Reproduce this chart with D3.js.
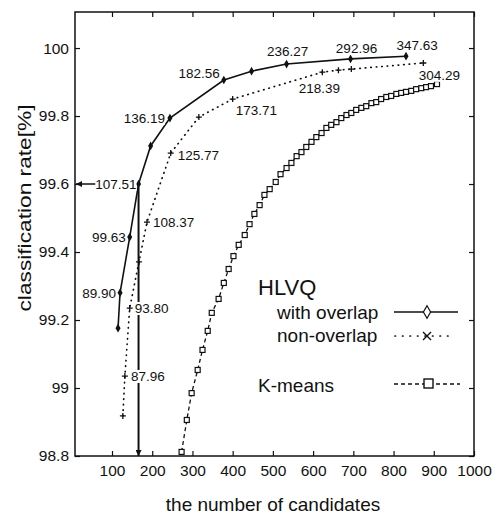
<!DOCTYPE html>
<html>
<head>
<meta charset="utf-8">
<script src="https://cdn.jsdelivr.net/npm/d3@7"></script>
<style>
	body { margin: 0; background: #fff; }
	text { font-family: "Liberation Sans", Arial, Helvetica, sans-serif; fill: #111; }
</style>
</head>
<body>
<div id="chart"></div>
<script>
// HLVQ with overlap
var overlapX = [115, 120, 144, 166, 196, 244, 378, 447, 534, 693, 831];
var overlapY = [99.176, 99.28, 99.444, 99.6, 99.712, 99.794, 99.906, 99.932, 99.953, 99.968, 99.976];
var overlapLabels = ["", "89.90", "99.63", "107.51", "", "136.19", "182.56", "", "236.27", "292.96", "347.63"];

// HLVQ non-overlap
var nonX = [127, 132, 144, 167, 187, 246, 316, 400, 623, 663, 695, 874];
var nonY = [98.918, 99.035, 99.235, 99.371, 99.488, 99.691, 99.797, 99.85, 99.929, 99.935, 99.938, 99.956];
var nonLabels = ["", "87.96", "93.80", "", "108.37", "125.77", "", "173.71", "218.39", "", "", "304.29"];

// K-means
var kmX = [273, 286, 298, 313, 325, 338, 348, 365, 378, 390, 402, 415, 430, 442, 454, 467, 479, 492,
	507, 519, 534, 546, 559, 571, 583, 596, 608, 621, 633, 645, 658, 670, 683, 695, 707, 720, 732,
	745, 757, 769, 782, 794, 807, 819, 831, 844, 856, 869, 881, 893, 908];
var kmY = [98.812, 98.906, 98.985, 99.053, 99.112, 99.168, 99.221, 99.262, 99.309, 99.35, 99.388, 99.421,
	99.45, 99.482, 99.512, 99.538, 99.568, 99.585, 99.606, 99.629, 99.647, 99.662, 99.682, 99.694, 99.709,
	99.724, 99.738, 99.75, 99.765, 99.774, 99.782, 99.794, 99.803, 99.809, 99.818, 99.824, 99.829, 99.838,
	99.841, 99.85, 99.856, 99.859, 99.865, 99.868, 99.871, 99.874, 99.879, 99.882, 99.885, 99.888, 99.894];

// axes
var xTicks = [100, 200, 300, 400, 500, 600, 700, 800, 900, 1000];
var xTickLabels = ["100", "200", "300", "400", "500", "600", "700", "800", "900", "1000"];
var yTicks = [98.8, 99, 99.2, 99.4, 99.6, 99.8, 100];
var yTickLabels = ["98.8", "99", "99.2", "99.4", "99.6", "99.8", "100"];

var width = 493, height = 514;
var plot = { left: 75, right: 474, top: 12, bottom: 456 };

var x = d3.scaleLinear().domain([8, 1000]).range([plot.left, plot.right]);
var y = d3.scaleLinear().domain([98.8, 100.106]).range([plot.bottom, plot.top]);

var svg = d3.select("#chart").append("svg")
	.attr("width", width)
	.attr("height", height);

var defs = svg.append("defs");
defs.append("clipPath").attr("id", "clip")
	.append("rect")
	.attr("x", plot.left).attr("y", plot.top)
	.attr("width", plot.right - plot.left).attr("height", plot.bottom - plot.top);
defs.append("marker")
	.attr("id", "arrow")
	.attr("viewBox", "0 0 10 10")
	.attr("refX", 10).attr("refY", 5)
	.attr("markerWidth", 7).attr("markerHeight", 6)
	.attr("markerUnits", "userSpaceOnUse")
	.attr("orient", "auto")
	.append("path")
	.attr("d", "M0,0L10,5L0,10Z")
	.attr("fill", "#111");

//
// axes: inward ticks on all four sides
//
function styleAxis(g) {
	g.select(".domain").remove();
	g.selectAll(".tick line").attr("stroke", "#111").attr("stroke-width", 1.2);
	g.selectAll(".tick text").style("font-size", "15.5px").attr("fill", "#111");
}

svg.append("g")
	.attr("transform", "translate(0," + plot.bottom + ")")
	.call(d3.axisBottom(x).tickValues(xTicks).tickSize(-5).tickPadding(9)
		.tickFormat(function(d, i) { return xTickLabels[i]; }))
	.call(styleAxis);

svg.append("g")
	.attr("transform", "translate(0," + plot.top + ")")
	.call(d3.axisTop(x).tickValues(xTicks).tickSize(-5).tickFormat(""))
	.call(styleAxis);

svg.append("g")
	.attr("transform", "translate(" + plot.left + ",0)")
	.call(d3.axisLeft(y).tickValues(yTicks).tickSize(-5).tickPadding(6)
		.tickFormat(function(d, i) { return yTickLabels[i]; }))
	.call(styleAxis);

svg.append("g")
	.attr("transform", "translate(" + plot.right + ",0)")
	.call(d3.axisRight(y).tickValues(yTicks).tickSize(-5).tickFormat(""))
	.call(styleAxis);

// frame
svg.append("rect")
	.attr("x", plot.left).attr("y", plot.top)
	.attr("width", plot.right - plot.left).attr("height", plot.bottom - plot.top)
	.attr("fill", "none").attr("stroke", "#111").attr("stroke-width", 1.5);

// axis titles
svg.append("text")
	.attr("x", 273).attr("y", 511)
	.attr("text-anchor", "middle")
	.style("font-size", "19px")
	.text("the number of candidates");

svg.append("text")
	.attr("transform", "translate(31,208) rotate(-90)")
	.attr("text-anchor", "middle")
	.attr("textLength", 207)
	.attr("lengthAdjust", "spacingAndGlyphs")
	.style("font-size", "19px")
	.text("classification rate[%]");

//
// series
//
function zipPts(xs, ys, labels) {
	return xs.map(function(v, i) {
		return { x: v, y: ys[i], label: labels ? labels[i] : "" };
	});
}
var overlapPts = zipPts(overlapX, overlapY, overlapLabels),
	nonPts = zipPts(nonX, nonY, nonLabels),
	kmPts = zipPts(kmX, kmY);

var line = d3.line()
	.x(function(d) { return x(d.x); })
	.y(function(d) { return y(d.y); });

var plotG = svg.append("g").attr("clip-path", "url(#clip)");

// K-means
plotG.append("path")
	.datum(kmPts)
	.attr("d", line)
	.attr("fill", "none")
	.attr("stroke", "#111")
	.attr("stroke-width", 1.3)
	.attr("stroke-dasharray", "4,3");

plotG.selectAll("rect.km")
	.data(kmPts)
	.enter()
	.append("rect")
	.attr("class", "km")
	.attr("x", function(d) { return x(d.x) - 2.5; })
	.attr("y", function(d) { return y(d.y) - 2.5; })
	.attr("width", 5).attr("height", 5)
	.attr("fill", "#fff")
	.attr("stroke", "#111")
	.attr("stroke-width", 1.2);

// non-overlap
plotG.append("path")
	.datum(nonPts)
	.attr("d", line)
	.attr("fill", "none")
	.attr("stroke", "#111")
	.attr("stroke-width", 1.7)
	.attr("stroke-linecap", "round")
	.attr("stroke-dasharray", "0.5,5");

plotG.selectAll("path.plus")
	.data(nonPts)
	.enter()
	.append("path")
	.attr("class", "plus")
	.attr("d", function(d) {
		var cx = x(d.x), cy = y(d.y);
		return "M" + (cx - 3) + "," + cy + "H" + (cx + 3) + "M" + cx + "," + (cy - 3) + "V" + (cy + 3);
	})
	.attr("stroke", "#111")
	.attr("stroke-width", 1.3);

// with overlap
plotG.append("path")
	.datum(overlapPts)
	.attr("d", line)
	.attr("fill", "none")
	.attr("stroke", "#111")
	.attr("stroke-width", 1.6);

plotG.selectAll("path.dia")
	.data(overlapPts)
	.enter()
	.append("path")
	.attr("class", "dia")
	.attr("transform", function(d) { return "translate(" + x(d.x) + "," + y(d.y) + ")"; })
	.attr("d", d3.symbol().type(d3.symbolDiamond).size(22))
	.attr("fill", "#111");

// arrows from the 99.6% point to both axes
var mark = overlapPts[3];
svg.append("line")
	.attr("x1", x(mark.x)).attr("y1", y(mark.y))
	.attr("x2", plot.left + 1).attr("y2", y(mark.y))
	.attr("stroke", "#111").attr("stroke-width", 1.5)
	.attr("marker-end", "url(#arrow)");
svg.append("line")
	.attr("x1", x(mark.x)).attr("y1", y(mark.y) + 3)
	.attr("x2", x(mark.x)).attr("y2", plot.bottom)
	.attr("stroke", "#111").attr("stroke-width", 2)
	.attr("marker-end", "url(#arrow)");

//
// point labels (white box behind, as in the original)
//
var overlapPlace = {
	"89.90": ["end", -4, 0], "99.63": ["end", -4, 0], "107.51": ["end", -2, 0],
	"136.19": ["end", -5, 0], "182.56": ["end", -4, -7],
	"236.27": ["middle", 1, -13], "292.96": ["middle", 6, -11], "347.63": ["middle", 11, -11]
};
var nonPlace = {
	"87.96": ["start", 6, 0], "93.80": ["start", 5, 0], "108.37": ["start", 6, 0],
	"125.77": ["start", 7, 2], "173.71": ["start", 3, 11], "218.39": ["middle", -3, 16],
	"304.29": ["middle", 16, 12]
};

function addLabels(pts, place) {
	pts.forEach(function(d) {
		if (!d.label) return;
		var p = place[d.label];
		var g = svg.append("g");
		var bg = g.append("rect").attr("fill", "#fff");
		var t = g.append("text")
			.attr("x", x(d.x) + p[1])
			.attr("y", y(d.y) + p[2])
			.attr("dy", "0.36em")
			.attr("text-anchor", p[0])
			.style("font-size", "13.5px")
			.text(d.label);
		var bb = t.node().getBBox();
		bg.attr("x", bb.x).attr("y", bb.y + 1)
			.attr("width", bb.width).attr("height", bb.height - 2);
	});
}
addLabels(overlapPts, overlapPlace);
addLabels(nonPts, nonPlace);

//
// legend
//
var leg = svg.append("g");
leg.append("text").attr("x", 258).attr("y", 295).style("font-size", "22px").text("HLVQ");
leg.append("text").attr("x", 277).attr("y", 319).style("font-size", "19px").text("with overlap");
leg.append("text").attr("x", 277).attr("y", 342).style("font-size", "19px").text("non-overlap");
leg.append("text").attr("x", 258).attr("y", 392).style("font-size", "19px").text("K-means");

leg.append("line").attr("x1", 394).attr("x2", 458).attr("y1", 312).attr("y2", 312)
	.attr("stroke", "#111").attr("stroke-width", 1.6);
leg.append("path")
	.attr("transform", "translate(427,312)")
	.attr("d", d3.symbol().type(d3.symbolDiamond).size(45))
	.attr("fill", "#fff").attr("stroke", "#111").attr("stroke-width", 1.2);

leg.append("line").attr("x1", 395).attr("x2", 455).attr("y1", 336).attr("y2", 336)
	.attr("stroke", "#111").attr("stroke-width", 1.7)
	.attr("stroke-linecap", "round").attr("stroke-dasharray", "0.5,7");
leg.append("path")
	.attr("d", "M423,332L431,340M431,332L423,340")
	.attr("stroke", "#111").attr("stroke-width", 1.4);

leg.append("line").attr("x1", 394).attr("x2", 460).attr("y1", 384).attr("y2", 384)
	.attr("stroke", "#111").attr("stroke-width", 1.3).attr("stroke-dasharray", "4,3");
leg.append("rect").attr("x", 424).attr("y", 379).attr("width", 9).attr("height", 9)
	.attr("fill", "#fff").attr("stroke", "#111").attr("stroke-width", 1.4);
</script>
</body>
</html>
